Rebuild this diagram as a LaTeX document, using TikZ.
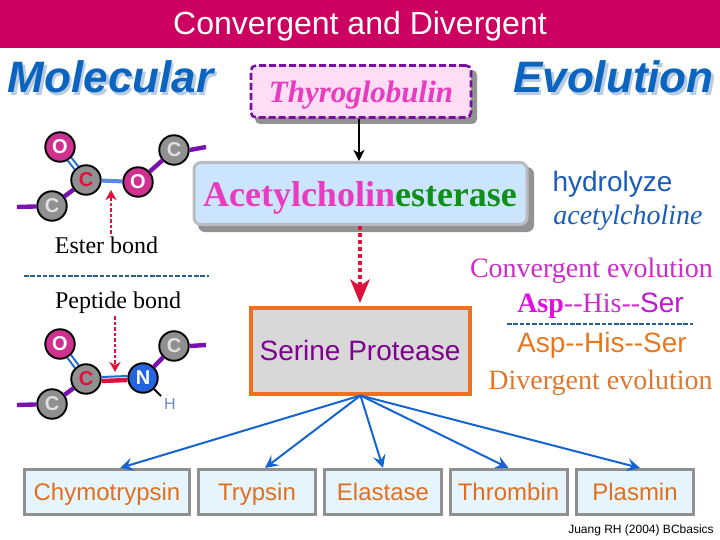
\documentclass[tikz,border=0pt]{standalone}
\usepackage{fontspec}
\setmainfont{Liberation Serif}
\setsansfont{Liberation Sans}
\usetikzlibrary{arrows.meta,calc}
\definecolor{barc}{HTML}{CC0060}
\definecolor{headc}{HTML}{0A64C0}
\definecolor{heads}{HTML}{B8CCE4}
\definecolor{pinkc}{HTML}{D03090}
\definecolor{greyc}{HTML}{909090}
\definecolor{stub}{HTML}{7A10B0}
\definecolor{bondb}{HTML}{1E6ED2}
\definecolor{bondl}{HTML}{5888E0}
\definecolor{redc}{HTML}{E0103C}
\definecolor{nblue}{HTML}{2464E0}
\definecolor{hc}{HTML}{6A8CCC}
\definecolor{dashc}{HTML}{2A6090}
\definecolor{mag}{HTML}{E83CC0}
\definecolor{pinkbg}{HTML}{FFDDF5}
\definecolor{dpurple}{HTML}{7A10A0}
\definecolor{shad}{HTML}{929292}
\definecolor{acebg}{HTML}{CCE5FF}
\definecolor{aceb}{HTML}{B8BCC0}
\definecolor{greenc}{HTML}{109018}
\definecolor{orangec}{HTML}{F07020}
\definecolor{sergrey}{HTML}{D8D8D8}
\definecolor{serp}{HTML}{800090}
\definecolor{hydc}{HTML}{1A5CB8}
\definecolor{conv}{HTML}{CC2CC8}
\definecolor{convb}{HTML}{E010E0}
\definecolor{convs}{HTML}{C018D0}
\definecolor{divc}{HTML}{DC7830}
\definecolor{arialo}{HTML}{E87820}
\definecolor{boxg}{HTML}{909090}
\definecolor{boxbg}{HTML}{E6F4FC}
\definecolor{boxt}{HTML}{E07020}
\definecolor{arrowb}{HTML}{1464D2}
\newcommand{\fsz}[1]{\fontsize{#1}{#1}\selectfont}
\newcommand{\shtxt}[1]{\makebox[0pt][l]{\hspace{2.5pt}\raisebox{-2.5pt}{\textcolor{heads}{#1}}}#1}
\begin{document}
\begin{tikzpicture}[x=1pt,y=-1pt,
  atom/.style={circle,draw=black,line width=1.9pt,minimum size=29.5pt,inner sep=0pt,font=\sffamily\bfseries\fsz{20}},
  oatom/.style={atom,fill=pinkc,text=white},
  catom/.style={atom,fill=greyc,text=white!88!black},
  ccatom/.style={atom,fill=greyc,text=redc},
  natom/.style={atom,fill=nblue,text=white},
  stubline/.style={draw=stub,line width=4.4pt},
  dbl/.style={draw=bondb,line width=2.1pt,double=white,double distance=2.4pt},
  redarrow/.style={draw=redc,line width=1.6pt,dash pattern=on 3.5pt off 2pt,-{Stealth[length=10pt,width=11pt,inset=3pt]}},
  headtxt/.style={anchor=base,font=\sffamily\bfseries\itshape\fsz{44}},
  sepline/.style={draw=dashc,line width=1.3pt,dash pattern=on 4.5pt off 1.8pt},
  enz/.style={rectangle,draw=boxg,line width=3pt,fill=boxbg,minimum width=165pt,minimum height=45pt,inner sep=0pt,text=boxt,font=\sffamily\fsz{24},text depth=0pt},
  branch/.style={draw=arrowb,line width=2pt,-{Stealth[length=13pt,width=13pt,inset=5pt]}},
  txt/.style={anchor=base,inner sep=0pt}]
\useasboundingbox (0,0) rectangle (720,540);
\fill[white] (0,0) rectangle (720,540);
\fill[barc] (0,0) rectangle (720,48);
\node[txt,text=white,font=\sffamily\fsz{32}] (title) at (360,35) {Convergent and Divergent};
% headings
\node[headtxt,text=headc,inner sep=0pt] (mol) at (110.5,93) {\shtxt{Molecular}};
\node[headtxt,text=headc,inner sep=0pt] (evo) at (613.5,93) {\shtxt{Evolution}};
% ester
\node[oatom] (o1) at (60,147) {O};
\node[ccatom] (c1) at (86,180) {C};
\node[catom] (c2) at (52,206) {C};
\node[oatom] (o2) at (138,182) {O};
\node[catom] (c3) at (174,150) {C};
\coordinate (s1) at (17,207);
\coordinate (s2) at (206,147);
\draw[stubline] (s1) -- (c2);
\draw[stubline] (c2) -- (c1);
\draw[stubline] (o2) -- (c3);
\draw[stubline] (c3.east) -- (s2);
\draw[dbl] (o1) -- (c1);
\draw[draw=bondl,line width=4pt] (c1) -- (o2);
\coordinate (ea) at (111,234);
\coordinate (eb) at (111,190);
\draw[redarrow] (ea) -- (eb);
\node[txt,font=\fsz{24}] (ester) at (106.5,254) {Ester bond};
\coordinate (d1) at (24,276);
\coordinate (d2) at (209,276);
\draw[sepline] (d1) -- (d2);
\node[txt,font=\fsz{24}] (pept) at (118,308) {Peptide bond};
% peptide
\node[oatom] (o3) at (60,344) {O};
\node[ccatom] (c4) at (86,379) {C};
\node[catom] (c5) at (52,404) {C};
\node[natom] (n1) at (143,378) {N};
\node[catom] (c6) at (174,346) {C};
\coordinate (s3) at (17,405);
\coordinate (s4) at (206,345);
\coordinate (hb) at (161,396);
\node[txt,text=hc,font=\sffamily\fsz{16}] (h) at (170,409) {H};
\draw[stubline] (s3) -- (c5);
\draw[stubline] (c5) -- (c4);
\draw[stubline] (n1) -- (c6);
\draw[stubline] (c6.east) -- (s4);
\draw[dbl] (o3) -- (c4);
\draw[draw=black,line width=2pt] (n1) -- (hb);
\draw[draw=bondb,line width=2pt] ([yshift=2pt]c4.east) -- ([yshift=2pt]n1.west);
\draw[draw=redc,line width=4.4pt] ([yshift=-2pt]c4.east) -- ([yshift=-2pt]n1.west);
\coordinate (pa) at (115,316);
\coordinate (pb) at (115,372);
\draw[redarrow] (pa) -- (pb);
% thyroglobulin
\fill[shad,rounded corners=5pt] (255,70) rectangle (477,124);
\node[rectangle,rounded corners=5pt,draw=dpurple,line width=2.6pt,dash pattern=on 7pt off 3pt,fill=pinkbg,minimum width=220pt,minimum height=52pt,inner sep=0pt] (thy) at (361,91.5) {};
\node[txt,text=mag,font=\bfseries\itshape\fsz{31}] (thyt) at (361,103) {Thyroglobulin};
% acetylcholinesterase
\fill[shad,rounded corners=7pt] (198,167) rectangle (534,232);
\node[rectangle,rounded corners=7pt,draw=aceb,line width=3pt,fill=acebg,minimum width=333pt,minimum height=62pt,inner sep=0pt] (ace) at (360.5,193.5) {};
\node[txt,font=\bfseries\fsz{36}] (acet) at (360,207) {\textcolor{mag}{Acetylcholin}\textcolor{greenc}{esterase}};
\draw[draw=black,line width=2pt,-{Stealth[length=11pt,width=11pt,inset=3pt]}] (thy.south -| 359,0) -- (ace.north -| 359,0);
% right labels
\node[txt,text=hydc,font=\sffamily\fsz{28}] (hyd) at (612.5,192) {hydrolyze};
\node[txt,text=hydc,font=\itshape\fsz{28}] (acl) at (628,225) {acetylcholine};
\node[txt,text=conv,font=\fsz{28}] (conv) at (591.5,277) {Convergent evolution};
\node[txt,text=conv,font=\fsz{28}] (as1) at (600.5,312) {\textcolor{convb}{\bfseries Asp}-{}-His-{}-\textcolor{convs}{\sffamily Ser}};
\coordinate (d3) at (507,324);
\coordinate (d4) at (693,324);
\draw[sepline] (d3) -- (d4);
\node[txt,text=arialo,font=\sffamily\fsz{28}] (as2) at (602,352) {Asp-{}-His-{}-Ser};
\node[txt,text=divc,font=\fsz{28}] (dv) at (600.5,389) {Divergent evolution};
% serine
\node[rectangle,draw=orangec,line width=4pt,fill=sergrey,minimum width=219pt,minimum height=86pt,inner sep=0pt] (ser) at (360.5,350.5) {};
\node[txt,text=serp,font=\sffamily\fsz{28}] (sert) at (360,360) {Serine Protease};
\draw[draw=redc,line width=4pt,dash pattern=on 4pt off 3pt] (ace.south -| 360,0) -- (360,286);
\draw[draw=none,fill=redc] (360,303) -- (350,279) -- (360,286) -- (370,279) -- cycle;
% enzymes
\node[enz] (e1) at (107,492) {Chymotrypsin};
\node[enz,minimum width=117pt] (e2) at (257,492) {Trypsin};
\node[enz,minimum width=117pt] (e3) at (383,492) {Elastase};
\node[enz,minimum width=117pt] (e4) at (508.5,492) {Thrombin};
\node[enz,minimum width=117pt] (e5) at (635,492) {Plasmin};
\draw[branch] (ser.south) -- ([xshift=13pt]e1.north);
\draw[branch] (ser.south) -- ([xshift=8pt]e2.north);
\draw[branch] (ser.south) -- (e3.north);
\draw[branch] (ser.south) -- (e4.north);
\draw[branch] (ser.south) -- ([xshift=5pt]e5.north);
\node[txt,font=\sffamily\fsz{12}] (cred) at (641,533) {Juang RH (2004) BCbasics};
\end{tikzpicture}
\end{document}
